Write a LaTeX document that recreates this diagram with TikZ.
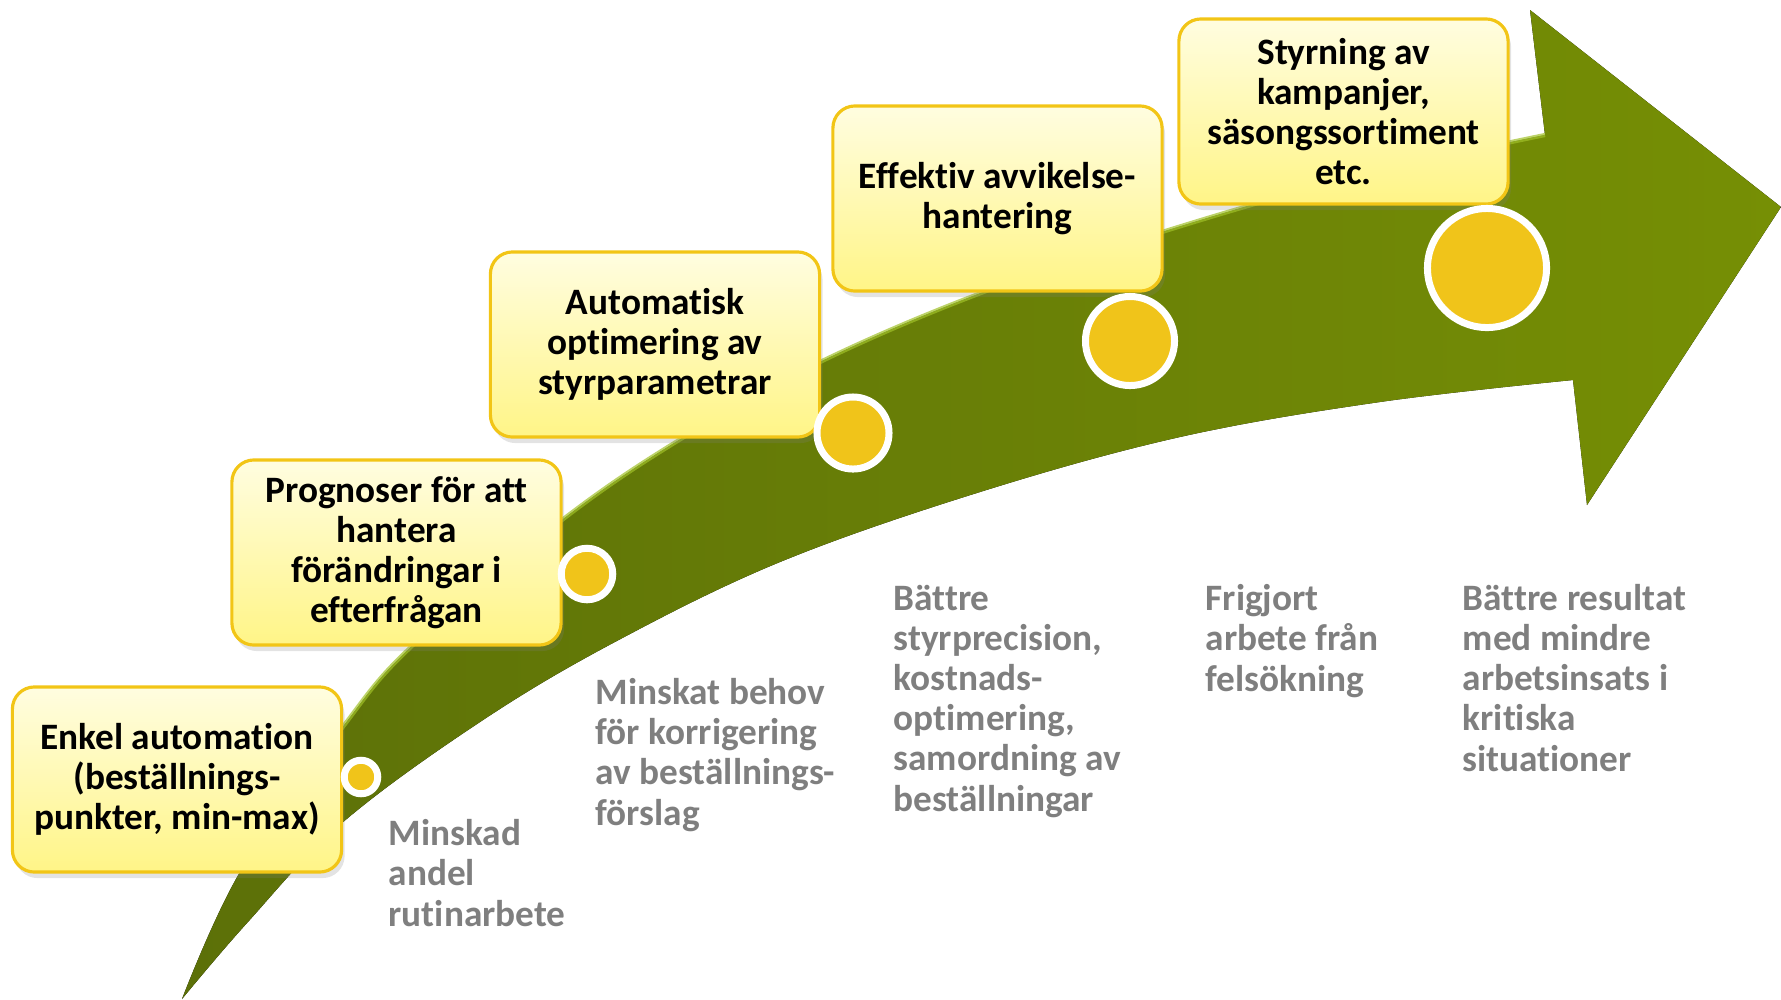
\documentclass[tikz,border=0pt]{standalone}
\usepackage{fontspec}
\setmainfont{Carlito}[Ligatures=NoCommon]
\usetikzlibrary{shadows}
\definecolor{arrowdark}{RGB}{92,112,8}
\definecolor{arrowlight}{RGB}{118,143,5}
\definecolor{arrowshine}{RGB}{160,192,40}
\definecolor{boxtop}{RGB}{255,253,224}
\definecolor{boxbottom}{RGB}{255,245,135}
\definecolor{boxline}{RGB}{242,197,22}
\definecolor{dotfill}{RGB}{240,196,26}
\definecolor{notegray}{RGB}{127,127,127}

\begin{document}
\begin{tikzpicture}[x=0.01cm,y=-0.01cm]
    \tikzset{textfont/.style = {font=\fontsize{10.6}{11.4}\selectfont\bfseries}}
    \tikzset{stepbox/.style = {shape=rectangle,rounded corners=0.22cm,draw=boxline,line width=0.9pt,
        top color=boxtop,bottom color=boxbottom,minimum width=3.29cm,minimum height=1.85cm,
        align=center,textfont,drop shadow={opacity=0.22,shadow xshift=0.03cm,shadow yshift=-0.06cm}}}
    \tikzset{milestone/.style = {shape=circle,fill=dotfill,draw=white,line width=0.07cm,
        inner sep=0pt,outer sep=0pt,drop shadow={opacity=0.2,shadow xshift=0.02cm,shadow yshift=-0.03cm}}}
    \tikzset{effect/.style = {anchor=base west,align=left,text=notegray,inner sep=0pt,textfont}}
    \useasboundingbox (0,0) rectangle (1781,999);

    % arrow
    \fill[left color=arrowdark,right color=arrowlight]
        plot[smooth,tension=0.6] coordinates {(182,999) (240,872) (342,728) (413,645) (562,520) (684,437)
            (820,362) (981,293) (1162,232) (1350,178) (1545,135)}
        -- (1530,10) -- (1781,207) -- (1587,505) -- (1573,380)
        -- plot[smooth,tension=0.6] coordinates {(1573,380) (1380,402) (1180,437) (980,492) (780,562)
            (613,643) (480,722) (342,823) (247,923) (182,999)}
        -- cycle;
    \draw[arrowshine,line width=1.2pt,opacity=0.7]
        plot[smooth,tension=0.6] coordinates {(240,872) (342,728) (413,645) (562,520) (684,437)
            (820,362) (981,293) (1162,232) (1350,178) (1545,135)};

    % steps
    \node[stepbox] (enkel) at (177,779.5) {Enkel automation\\(beställnings-\\punkter, min-max)};
    \node[stepbox] (prognos) at (396.5,552.5) {Prognoser för att\\hantera\\förändringar i\\efterfrågan};
    \node[stepbox] (optimering) at (655,344.5) {Automatisk\\optimering av\\styrparametrar};
    \node[stepbox] (avvikelse) at (997.5,198.5) {Effektiv avvikelse-\\hantering};
    \node[stepbox] (styrning) at (1343.5,111.5) {Styrning av\\kampanjer,\\säsongssortiment\\etc.};

    % milestones
    \node[milestone,minimum size=0.335cm] (m1) at (361,777) {};
    \node[milestone,minimum size=0.515cm] (m2) at (587,574) {};
    \node[milestone,minimum size=0.72cm] (m3) at (853,433) {};
    \node[milestone,minimum size=0.89cm] (m4) at (1130,341) {};
    \node[milestone,minimum size=1.19cm] (m5) at (1487,268) {};

    % effects (anchored at the last line)
    \node[effect] (e1) at (388,926) {Minskad\\andel\\rutinarbete};
    \node[effect] (e2) at (595,825) {Minskat behov\\för korrigering\\av beställnings-\\förslag};
    \node[effect] (e3) at (893,811) {Bättre\\styrprecision,\\kostnads-\\optimering,\\samordning av\\beställningar};
    \node[effect] (e4) at (1205,691) {Frigjort\\arbete från\\felsökning};
    \node[effect] (e5) at (1462,771) {Bättre resultat\\med mindre\\arbetsinsats i\\kritiska\\situationer};
\end{tikzpicture}
\end{document}
